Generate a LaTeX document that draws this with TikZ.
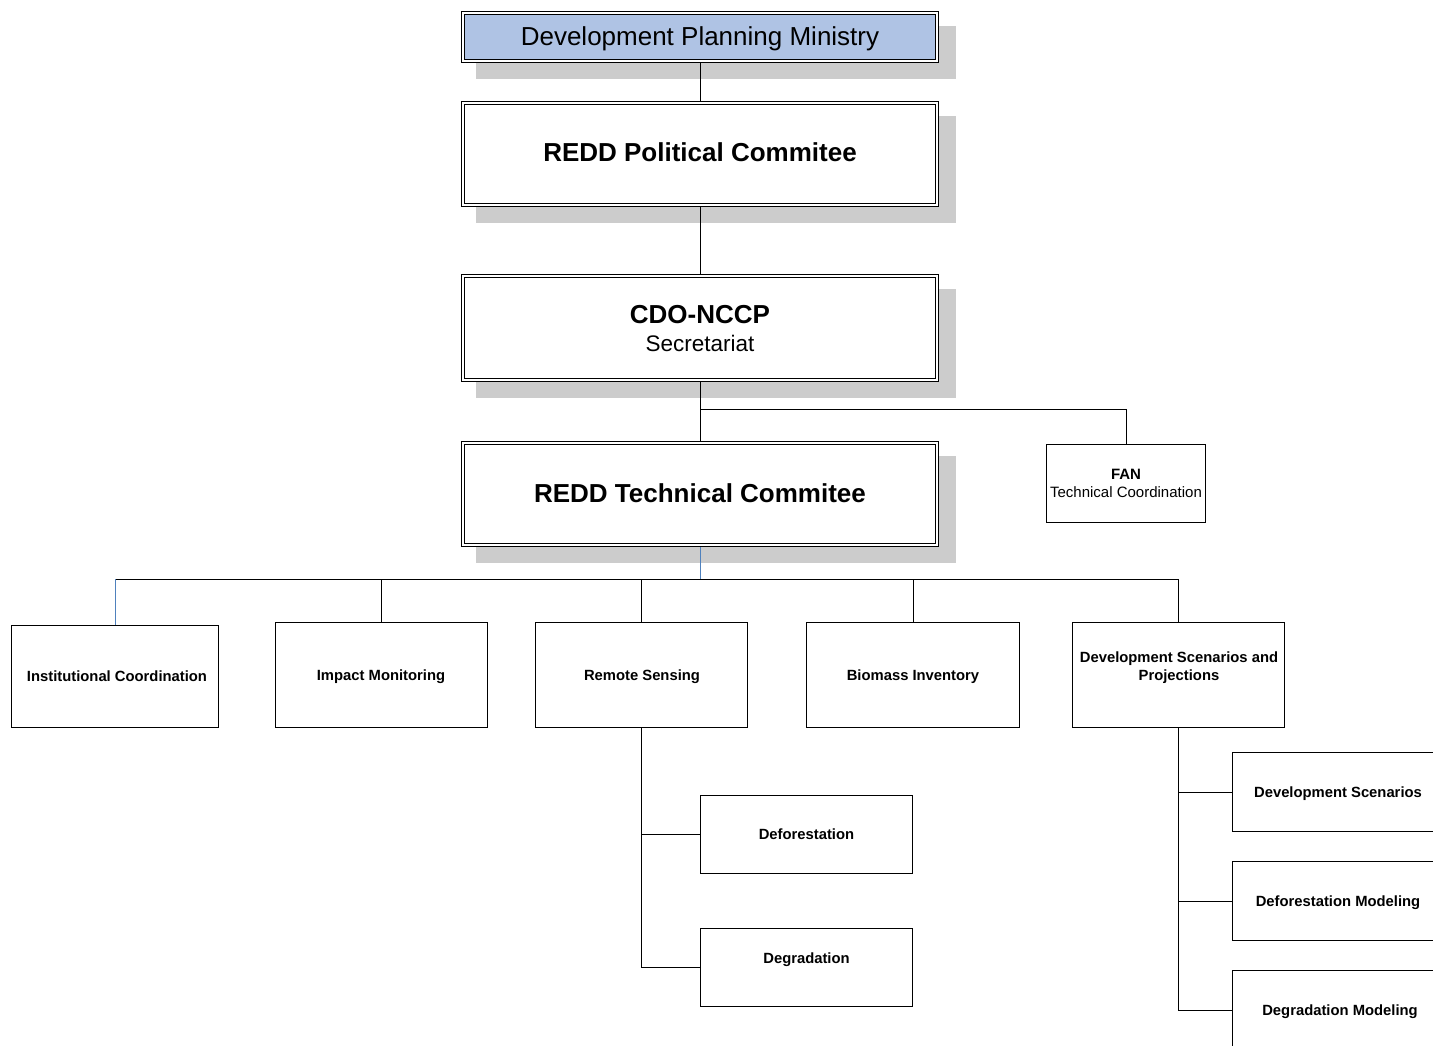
\documentclass[tikz,border=0pt]{standalone}
\usepackage{fontspec}
\setmainfont{Liberation Sans}
\usetikzlibrary{calc,backgrounds}
\definecolor{minblue}{RGB}{175,195,228}
\definecolor{shadowgray}{RGB}{204,204,204}
\definecolor{linkblue}{RGB}{79,129,189}
\begin{document}
\begin{tikzpicture}[x=1pt,y=-1pt,
  dbox/.style={draw=black, fill=white, line width=1pt, double, double distance=2pt, rectangle, inner sep=0pt, outer sep=0pt, minimum width=474pt},
  sbox/.style={draw=black, fill=white, line width=1pt, rectangle, inner sep=0pt, outer sep=0pt},
  lbl/.style={anchor=base, inner sep=0pt, outer sep=0pt, text=black},
  rg26/.style={font=\fontsize{26}{30}\selectfont},
  bd26/.style={font=\bfseries\fontsize{26}{30}\selectfont},
  rg22/.style={font=\fontsize{22.5}{26}\selectfont},
  rg15/.style={font=\fontsize{15}{18}\selectfont},
  bd15/.style={font=\bfseries\fontsize{15}{18}\selectfont},
  bd14/.style={font=\bfseries\fontsize{14.8}{17}\selectfont},
  conn/.style={draw=black, line width=1pt},
  bconn/.style={draw=linkblue, line width=1pt}]
\useasboundingbox (0,0) rectangle (1433,1046);
\clip (0,0) rectangle (1433,1046);

% main boxes
\node[dbox, fill=minblue, minimum height=48pt] (min) at (700,37) {};
\node[dbox, minimum height=102pt] (pol) at (700,154) {};
\node[dbox, minimum height=104pt] (cdo) at (700,328) {};
\node[dbox, minimum height=102pt] (tech) at (700,494) {};
\node[sbox, minimum width=159pt, minimum height=78pt] (fan) at (1126,483.5) {};

% level boxes
\node[sbox, minimum width=207pt, minimum height=102pt] (inst) at (115,676.5) {};
\node[sbox, minimum width=212pt, minimum height=105pt] (imp) at (381.5,675) {};
\node[sbox, minimum width=212pt, minimum height=105pt] (rs) at (641.5,675) {};
\node[sbox, minimum width=213pt, minimum height=105pt] (bio) at (913,675) {};
\node[sbox, minimum width=212pt, minimum height=105pt] (dsp) at (1178.5,675) {};

% children
\node[sbox, minimum width=212pt, minimum height=78pt] (defo) at (806.5,834.5) {};
\node[sbox, minimum width=212pt, minimum height=78pt] (degr) at (806.5,967.5) {};
\node[sbox, minimum width=211pt, minimum height=79pt] (dscn) at (1338,792) {};
\node[sbox, minimum width=211pt, minimum height=79pt] (dfm) at (1338,901) {};
\node[sbox, minimum width=211pt, minimum height=79pt] (dgm) at (1338,1010) {};

\coordinate (br) at (700,409);
\coordinate (bus) at (700,579);

\begin{scope}[on background layer]
  \fill[white] (0,0) rectangle (1433,1046);
  \foreach \n in {min,pol,cdo,tech}
    \fill[shadowgray] ($(\n.south west)+(13,18)$) rectangle ($(\n.north east)+(19,13)$);
  \draw[conn] (min.south) -- (pol.north);
  \draw[conn] (pol.south) -- (cdo.north);
  \draw[conn] (cdo.south) -- (tech.north);
  \draw[conn] (br) -| (fan.north);
  \draw[bconn] (tech.south) -- (bus);
  \draw[conn] (inst.north |- bus) -- (dsp.north |- bus);
  \draw[bconn] (inst.north |- bus) -- (inst.north);
  \foreach \n in {imp,rs,bio,dsp}
    \draw[conn] (\n.north |- bus) -- (\n.north);
  \draw[conn] (rs.south) |- (defo.west);
  \draw[conn] (rs.south) |- (degr.west);
  \draw[conn] (dsp.south) |- (dscn.west);
  \draw[conn] (dsp.south) |- (dfm.west);
  \draw[conn] (dsp.south) |- (dgm.west);
\end{scope}

% texts
\node[lbl, rg26] (tmin) at (700,46) {Development Planning Ministry};
\node[lbl, bd26] (tpol) at (700,162) {REDD Political Commitee};
\node[lbl, bd26] (tcdo) at (700,323) {CDO-NCCP};
\node[lbl, rg22] (tsec) at (700,351) {Secretariat};
\node[lbl, bd26] (ttech) at (700,502) {REDD Technical Commitee};
\node[lbl, bd15] (tfan) at (1126,479) {FAN};
\node[lbl, rg15] (tfan2) at (1126,497) {Technical Coordination};
\node[lbl, bd14] (tinst) at (117,681) {Institutional Coordination};
\node[lbl, bd14] (timp) at (381,680) {Impact Monitoring};
\node[lbl, bd14] (trs) at (642,680) {Remote Sensing};
\node[lbl, bd14] (tbio) at (913,680) {Biomass Inventory};
\node[lbl, bd14] (tdsp1) at (1179,662.5) {Development Scenarios and};
\node[lbl, bd14] (tdsp2) at (1179,680) {Projections};
\node[lbl, bd14] (tdefo) at (806.5,839) {Deforestation};
\node[lbl, bd14] (tdegr) at (806.5,963) {Degradation};
\node[lbl, bd14] (tdscn) at (1338,797.5) {Development Scenarios};
\node[lbl, bd14] (tdfm) at (1338,906.5) {Deforestation Modeling};
\node[lbl, bd14] (tdgm) at (1340,1015.5) {Degradation Modeling};
\end{tikzpicture}
\end{document}
